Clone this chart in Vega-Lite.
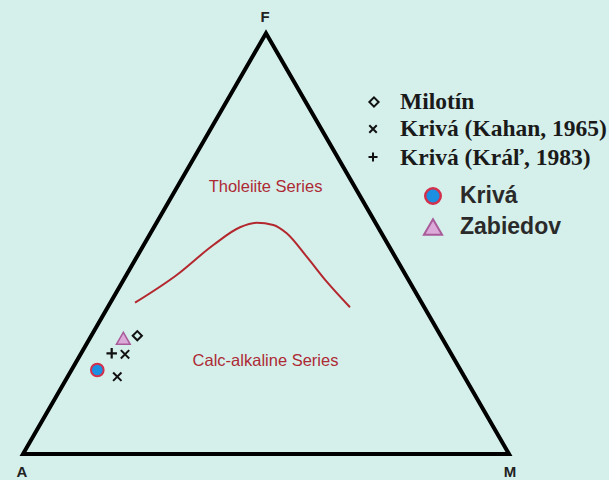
{
  "$schema": "https://vega.github.io/schema/vega-lite/v6.json",
  "width": 609,
  "height": 480,
  "autosize": {"type": "fit", "contains": "padding"},
  "padding": 0,
  "background": "#d5f0eb",
  "config": {"view": {"stroke": null}},
  "datasets": {
    "outline": [
      {"vertex": "A", "order": 1, "x": 0, "y": 0},
      {"vertex": "F", "order": 2, "x": 50, "y": 86.6},
      {"vertex": "M", "order": 3, "x": 100, "y": 0}
    ],
    "boundary": [
      {"order": 1, "x": 23.05, "y": 31.13},
      {"order": 2, "x": 31.63, "y": 36.83},
      {"order": 3, "x": 39.16, "y": 43.0},
      {"order": 4, "x": 44.65, "y": 46.65},
      {"order": 5, "x": 48.09, "y": 47.59},
      {"order": 6, "x": 51.5, "y": 47.12},
      {"order": 7, "x": 54.26, "y": 45.41},
      {"order": 8, "x": 58.37, "y": 40.6},
      {"order": 9, "x": 62.49, "y": 35.45},
      {"order": 10, "x": 67.28, "y": 30.19}
    ],
    "symbols": [
      {"series": "Krivá", "role": "data", "x": 15.29, "y": 17.28},
      {"series": "Krivá (Kahan, 1965)", "role": "data", "x": 19.4, "y": 15.91},
      {"series": "Krivá (Kahan, 1965)", "role": "data", "x": 20.99, "y": 20.51},
      {"series": "Krivá (Kráľ, 1983)", "role": "data", "x": 18.25, "y": 20.72},
      {"series": "Milotín", "role": "data", "x": 23.52, "y": 24.34},
      {"series": "Zabiedov", "role": "data", "x": 20.64, "y": 23.81},
      {"series": "Milotín", "role": "key", "x": 72.22, "y": 72.43},
      {"series": "Krivá (Kahan, 1965)", "role": "key", "x": 72.02, "y": 66.87},
      {"series": "Krivá (Kráľ, 1983)", "role": "key", "x": 72.02, "y": 61.11},
      {"series": "Krivá", "role": "key", "x": 84.36, "y": 53.09},
      {"series": "Zabiedov", "role": "key", "x": 84.36, "y": 46.71}
    ],
    "legendSerif": [
      {"label": "Milotín", "x": 77.57, "y": 72.5},
      {"label": "Krivá (Kahan, 1965)", "x": 77.57, "y": 66.8},
      {"label": "Krivá (Kráľ, 1983)", "x": 77.57, "y": 61.0}
    ],
    "legendSans": [
      {"label": "Krivá", "x": 89.92, "y": 53.1},
      {"label": "Zabiedov", "x": 89.92, "y": 46.7}
    ],
    "vertexLabels": [
      {"label": "F", "x": 49.79, "y": 89.92},
      {"label": "A", "x": -0.21, "y": -3.7},
      {"label": "M", "x": 100.2, "y": -3.7}
    ],
    "fieldLabels": [
      {"label": "Tholeiite Series", "x": 49.9, "y": 54.94},
      {"label": "Calc-alkaline Series", "x": 49.9, "y": 19.14}
    ]
  },
  "encoding": {
    "x": {"field": "x", "type": "quantitative", "axis": null, "scale": {"domain": [-4.733, 120.576], "nice": false, "zero": false}},
    "y": {"field": "y", "type": "quantitative", "axis": null, "scale": {"domain": [-5.35, 93.42], "nice": false, "zero": false}}
  },
  "layer": [
    {
      "data": {"name": "outline"},
      "mark": {"type": "line", "interpolate": "linear-closed", "color": "#000000", "strokeWidth": 4, "strokeJoin": "miter"},
      "encoding": {"order": {"field": "order", "type": "quantitative"}}
    },
    {
      "data": {"name": "boundary"},
      "mark": {"type": "line", "interpolate": "monotone", "color": "#b3282e", "strokeWidth": 2},
      "encoding": {"order": {"field": "order", "type": "quantitative"}}
    },
    {
      "data": {"name": "fieldLabels"},
      "mark": {"type": "text", "font": "Liberation Sans", "fontSize": 16.5, "color": "#ad2a35", "align": "center", "baseline": "middle"},
      "encoding": {"text": {"field": "label"}}
    },
    {
      "data": {"name": "vertexLabels"},
      "mark": {"type": "text", "font": "Liberation Sans", "fontSize": 15, "fontWeight": "bold", "color": "#222222", "align": "center", "baseline": "middle"},
      "encoding": {"text": {"field": "label"}}
    },
    {
      "data": {"name": "symbols"},
      "transform": [{"filter": "datum.series === 'Milotín'"}],
      "mark": {"type": "point", "shape": "diamond", "size": 85, "filled": false, "stroke": "#111111", "strokeWidth": 2, "opacity": 1},
      "encoding": {}
    },
    {
      "data": {"name": "symbols"},
      "transform": [{"filter": "datum.series === 'Krivá (Kahan, 1965)' && datum.role === 'data'"}],
      "mark": {"type": "point", "shape": "M-1,-1L1,1M-1,1L1,-1", "size": 70, "filled": false, "stroke": "#111111", "strokeWidth": 2, "opacity": 1},
      "encoding": {}
    },
    {
      "data": {"name": "symbols"},
      "transform": [{"filter": "datum.series === 'Krivá (Kahan, 1965)' && datum.role === 'key'"}],
      "mark": {"type": "point", "shape": "M-1,-1L1,1M-1,1L1,-1", "size": 56, "filled": false, "stroke": "#111111", "strokeWidth": 2, "opacity": 1},
      "encoding": {}
    },
    {
      "data": {"name": "symbols"},
      "transform": [{"filter": "datum.series === 'Krivá (Kráľ, 1983)' && datum.role === 'data'"}],
      "mark": {"type": "point", "shape": "M-1,0L1,0M0,-1L0,1", "size": 110, "filled": false, "stroke": "#111111", "strokeWidth": 2.2, "opacity": 1},
      "encoding": {}
    },
    {
      "data": {"name": "symbols"},
      "transform": [{"filter": "datum.series === 'Krivá (Kráľ, 1983)' && datum.role === 'key'"}],
      "mark": {"type": "point", "shape": "M-1,0L1,0M0,-1L0,1", "size": 81, "filled": false, "stroke": "#111111", "strokeWidth": 2, "opacity": 1},
      "encoding": {}
    },
    {
      "data": {"name": "symbols"},
      "transform": [{"filter": "datum.series === 'Krivá' && datum.role === 'data'"}],
      "mark": {"type": "point", "shape": "circle", "size": 160, "filled": true, "fill": "#1b8fe2", "stroke": "#d3304c", "strokeWidth": 2, "opacity": 1},
      "encoding": {}
    },
    {
      "data": {"name": "symbols"},
      "transform": [{"filter": "datum.series === 'Krivá' && datum.role === 'key'"}],
      "mark": {"type": "point", "shape": "circle", "size": 240, "filled": true, "fill": "#1b8fe2", "stroke": "#d3304c", "strokeWidth": 2.5, "opacity": 1},
      "encoding": {}
    },
    {
      "data": {"name": "symbols"},
      "transform": [{"filter": "datum.series === 'Zabiedov' && datum.role === 'data'"}],
      "mark": {"type": "point", "shape": "triangle-up", "size": 190, "filled": true, "fill": "#dcaad8", "stroke": "#a95c9a", "strokeWidth": 1.5, "opacity": 1},
      "encoding": {}
    },
    {
      "data": {"name": "symbols"},
      "transform": [{"filter": "datum.series === 'Zabiedov' && datum.role === 'key'"}],
      "mark": {"type": "point", "shape": "triangle-up", "size": 330, "filled": true, "fill": "#dcaad8", "stroke": "#a95c9a", "strokeWidth": 2, "opacity": 1},
      "encoding": {}
    },
    {
      "data": {"name": "legendSerif"},
      "mark": {"type": "text", "font": "Liberation Serif", "fontSize": 23.5, "fontWeight": "bold", "color": "#1a1a1a", "align": "left", "baseline": "middle"},
      "encoding": {"text": {"field": "label"}}
    },
    {
      "data": {"name": "legendSans"},
      "mark": {"type": "text", "font": "Liberation Sans", "fontSize": 23, "fontWeight": "bold", "color": "#2a2a2a", "align": "left", "baseline": "middle"},
      "encoding": {"text": {"field": "label"}}
    }
  ]
}
